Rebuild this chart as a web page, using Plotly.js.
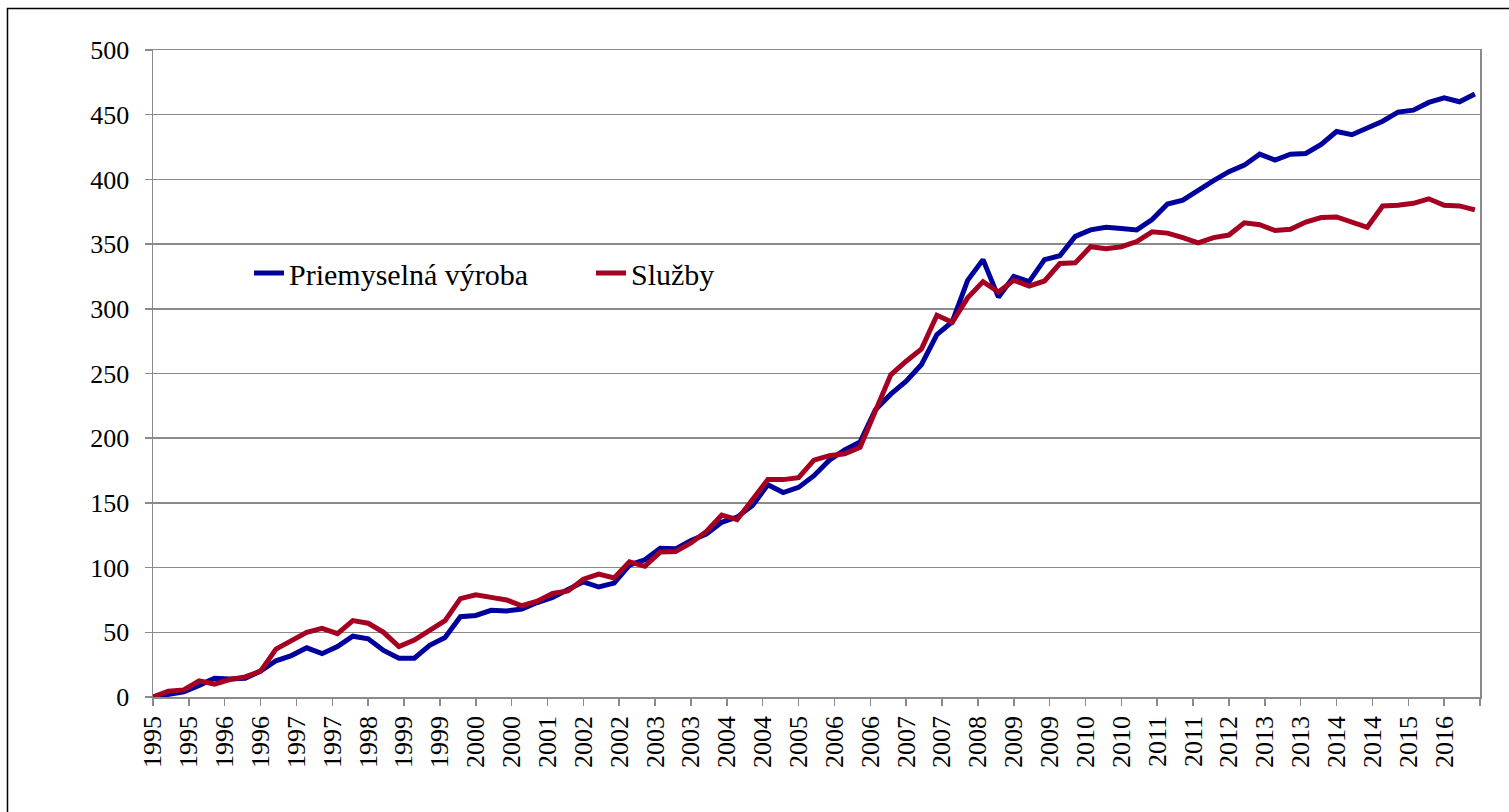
<!DOCTYPE html>
<html>
<head>
<meta charset="utf-8">
<script src="https://cdn.plot.ly/plotly-3.0.1.min.js"></script>
<style>
  html, body { margin: 0; padding: 0; background: #ffffff; }
  #chart { width: 1509px; height: 812px; }
</style>
</head>
<body>
<div id="chart"></div>
<script>
// ---- data (quarterly, 1995 Q1 – 2016 Q3) ----
const startYear = 1995;
const quarterCount = 87;

const seriesNames = ['Priemyselná výroba', 'Služby'];

const priemyselnaVyroba = [
  0, 2, 4, 9, 14.5, 14, 14.5, 20, 28, 32,
  38, 33.5, 39, 47, 45, 36, 30, 30, 40, 46,
  62, 63, 67, 66.5, 68, 73, 77, 83, 89, 85,
  88, 102, 106, 115, 114.5, 121, 126, 135, 139, 148,
  164, 158, 162, 171, 183, 191, 197, 222, 234, 244,
  257, 280, 290, 322, 338, 309, 325, 321, 338, 341,
  356, 361, 363, 362, 361, 369, 381, 384, 392, 399,
  406, 411, 419.5, 415, 419.5, 420, 427, 437, 434.5, 439.5,
  445, 452, 453.5, 459.5, 463, 460, 466
];

const sluzby = [
  0, 4.5, 5.5, 12.5, 10, 13.5, 15.5, 20, 37, 43,
  50, 53, 49, 59, 57, 50, 39, 44, 51, 59,
  76, 79, 77, 75, 70.5, 74, 80, 82, 91, 95,
  92, 104.5, 101, 112, 112.5, 119, 128, 140.5, 137, 152,
  168, 168, 169.5, 183, 186.5, 188, 193, 221, 249, 259.5,
  269, 295, 289.5, 308.5, 321, 313, 322, 317.5, 321.5, 335,
  335.5, 348, 346.5, 348, 352, 359.5, 358.5, 355, 351, 355,
  357, 366.5, 365, 360.5, 361.5, 367, 370.5, 371, 367, 363,
  379.5, 380, 381.5, 385, 380, 379.5, 376.5
];

// tick labels, one every 7 months starting Jan 1995 (last tick unlabeled)
const tickLabels = [
  '1995','1995','1996','1996','1997','1997','1998','1999','1999','2000',
  '2000','2001','2002','2002','2003','2003','2004','2004','2005','2006',
  '2006','2007','2007','2008','2009','2009','2010','2010','2011','2011',
  '2012','2013','2013','2014','2014','2015','2016',''
];

// ---- build x positions (months since Jan 1995) ----
const monthIndex = [];
for (let i = 0; i < quarterCount; i++) monthIndex.push(i * 3);
const tickStep = 7;
const tickVals = tickLabels.map((_, k) => k * tickStep);
const axisMax = tickVals[tickVals.length - 1];

const FONT = 'Liberation Serif, "Times New Roman", serif';
const GRID = '#8a8a8a';

const traces = [
  {
    x: monthIndex, y: priemyselnaVyroba, name: seriesNames[0],
    type: 'scatter', mode: 'lines',
    line: { color: '#00009c', width: 5 }
  },
  {
    x: monthIndex, y: sluzby, name: seriesNames[1],
    type: 'scatter', mode: 'lines',
    line: { color: '#a50021', width: 5 }
  }
];

// plot area in pixels
const L = 153, R = 1480, T = 50, B = 697;
const W = R - L, H = B - T;
const px = v => (v - L) / W;
const py = v => (B - v) / H;

const layout = {
  width: 1509, height: 812,
  margin: { l: L, r: 1509 - R, t: T, b: 812 - B, pad: 0 },
  paper_bgcolor: '#ffffff',
  plot_bgcolor: '#ffffff',
  font: { family: FONT, color: '#000000', size: 26 },
  showlegend: true,
  legend: {
    orientation: 'h',
    x: px(249), y: py(273), xanchor: 'left', yanchor: 'middle',
    bgcolor: 'rgba(0,0,0,0)',
    font: { family: FONT, size: 30, color: '#000000' },
    itemwidth: 30,
    entrywidth: 297, entrywidthmode: 'pixels'
  },
  xaxis: {
    range: [0, axisMax],
    tickmode: 'array', tickvals: tickVals, ticktext: tickLabels,
    tickangle: -90,
    ticks: 'outside', ticklen: 7, tickwidth: 1.5, tickcolor: GRID,
    showline: true, linecolor: GRID, linewidth: 1.5, mirror: true,
    showgrid: false, zeroline: false,
    tickfont: { family: FONT, size: 26, color: '#000000' },
    fixedrange: true
  },
  yaxis: {
    range: [0, 500], dtick: 50, tick0: 0,
    ticks: 'outside', ticklen: 7, tickwidth: 1.5, tickcolor: GRID,
    showline: true, linecolor: GRID, linewidth: 1.5, mirror: true,
    showgrid: true, gridcolor: GRID, gridwidth: 1.5,
    zeroline: false,
    ticklabelstandoff: 10,
    tickfont: { family: FONT, size: 26, color: '#000000' },
    fixedrange: true
  },
  shapes: [
    {
      type: 'rect', xref: 'paper', yref: 'paper', layer: 'above',
      x0: px(7.5), x1: px(1520), y0: py(830), y1: py(8.5),
      line: { color: '#000000', width: 1.5 }, fillcolor: 'rgba(0,0,0,0)'
    }
  ]
};

Plotly.newPlot('chart', traces, layout, { displayModeBar: false, staticPlot: true });
</script>
</body>
</html>
